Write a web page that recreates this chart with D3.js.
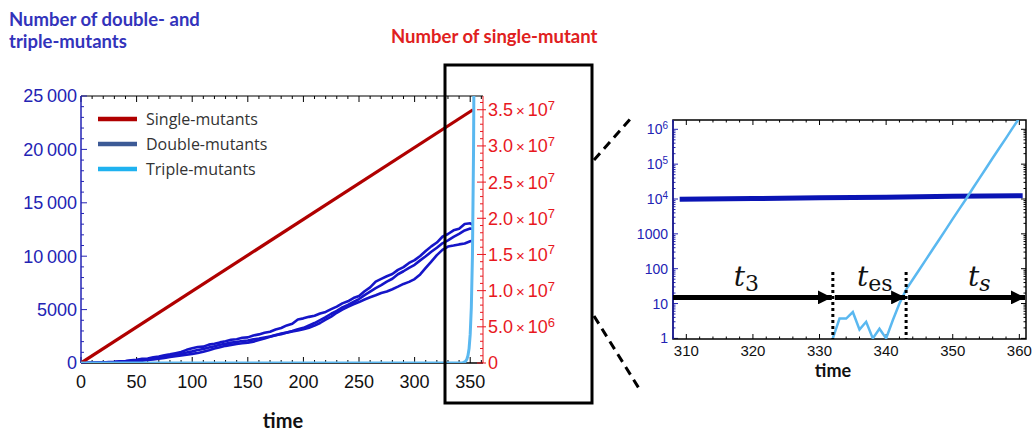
<!DOCTYPE html>
<html>
<head>
<meta charset="utf-8">
<script src="https://cdn.jsdelivr.net/npm/d3@7"></script>
<style>
body { margin: 0; background: #fff; }
svg { display: block; }
text { font-family: "Liberation Sans", Arial, sans-serif; }
</style>
</head>
<body>
<div id="chart"></div>
<script>
// ---- data ----
var timeGrid = [0,5,10,15,20,25,30,35,40,45,50,55,60,65,70,75,80,85,90,95,100,105,110,115,120,125,130,135,140,145,150,155,160,165,170,175,180,185,190,195,200,205,210,215,220,225,230,235,240,245,250,255,260,265,270,275,280,285,290,295,300,305,310,315,320,325,330,335,340,345,350,352];
var doubleA = [0,10,20,35,45,80,105,160,185,250,300,390,420,540,600,720,810,920,1030,1230,1380,1500,1530,1720,1800,1930,2030,2170,2230,2360,2400,2580,2680,2830,2930,3130,3280,3520,3680,4080,4180,4320,4430,4640,4780,5040,5280,5580,5780,6080,6280,6720,7080,7620,7880,8120,8330,8720,8980,9370,9630,10020,10480,10920,11280,11820,12080,12420,12580,13020,13080,12950];
var doubleB = [0,5,15,30,40,65,85,125,155,210,245,310,350,440,490,590,650,760,840,990,1090,1210,1310,1460,1570,1710,1790,1910,1970,2060,2110,2210,2290,2390,2490,2610,2690,2860,2990,3160,3290,3510,3740,4010,4290,4610,4890,5210,5440,5710,5990,6360,6690,7010,7290,7610,7890,8310,8590,8910,9190,9610,9990,10410,10790,11210,11490,11810,12090,12410,12590,12550];
var doubleC = [0,5,10,20,35,40,65,75,115,135,185,215,275,325,405,465,555,625,705,775,855,945,1055,1195,1355,1475,1605,1695,1785,1845,1905,1995,2155,2295,2455,2595,2755,2845,2955,3045,3155,3295,3505,3745,4055,4345,4705,4995,5255,5495,5705,5945,6155,6345,6555,6695,6905,7145,7405,7595,7855,8295,8905,9495,10105,10595,10905,10995,11105,11195,11405,11450];

var singleTime = [0, 352.5];
var singleVal = [0, 3.5e7];

var tripleTime = [0, 331, 332, 333, 334, 335, 336, 337, 338, 339, 340, 341, 342, 343, 344, 345, 346, 347, 348, 349, 350, 351, 352, 353, 354, 355, 356, 357, 358, 359, 360];
var tripleVal = [0, 0, 1, 3.7, 3.7, 5.7, 1.8, 3.0, 1, 1.9, 1, 3.3, 10, 25, 49, 95, 185, 360, 700, 1370, 2700, 5200, 10000, 20000, 39000, 76000, 150000, 290000, 560000, 1100000, 2100000];

var insetDoubleTime = [309, 320, 330, 340, 350, 360.5];
var insetDoubleVal = [9800, 10300, 10800, 11300, 11900, 12400];

var legendNames = ["Single-mutants", "Double-mutants", "Triple-mutants"];
var legendColors = ["#b00000", "#3c5a96", "#1fb2f0"];

var phaseBounds = [308, 332, 343, 361];
var phaseLabels = [["t", "3"], ["t", "es"], ["t", "s"]];
var phaseLabelTime = [319, 338.3, 354];
var phaseLevel = 15;

// ---- layout ----
var W = 1032, H = 434;
var blue = "#2323b4", red = "#e8181e";

var svg = d3.select("#chart").append("svg").attr("width", W).attr("height", H);

var x = d3.scaleLinear().domain([0, 361.5]).range([81, 483]),
    yL = d3.scaleLinear().domain([0, 25000]).range([363, 96]),
    yR = d3.scaleLinear().domain([0, 3.69e7]).range([363, 96]);

var defs = svg.append("defs");
defs.append("clipPath").attr("id", "clipMain").append("rect")
    .attr("x", 81).attr("y", 96).attr("width", 402).attr("height", 267);

// titles
var t1 = svg.append("text").attr("x", 9).attr("y", 26)
    .attr("fill", "#3333bb").style("font-family", "Lato, sans-serif")
    .style("font-weight", "bold").style("font-size", "18.5px");
t1.append("tspan").attr("x", 9).text("Number of double- and");
t1.append("tspan").attr("x", 9).attr("dy", 22).text("triple-mutants");

svg.append("text").attr("x", 391).attr("y", 43)
    .attr("fill", "#e02020").style("font-family", "Lato, sans-serif")
    .style("font-weight", "bold").style("font-size", "18.5px")
    .text("Number of single-mutant");

// ---- main chart ----
var main = svg.append("g");

// frame ticks
function hTicks(g, yPos, dir) {
  d3.range(0, 361, 10).forEach(function(v) {
    var len = v % 50 === 0 ? 6 : 3;
    g.append("line").attr("x1", x(v)).attr("x2", x(v))
      .attr("y1", yPos).attr("y2", yPos + dir * len)
      .attr("stroke", "#000").attr("stroke-width", 1);
  });
}
hTicks(main, 363, -1);
hTicks(main, 96, 1);

main.append("line").attr("x1", 81).attr("x2", 483).attr("y1", 96).attr("y2", 96)
    .attr("stroke", "#000").attr("stroke-width", 1.2);
main.append("line").attr("x1", 81).attr("x2", 483).attr("y1", 363).attr("y2", 363)
    .attr("stroke", "#000").attr("stroke-width", 1.5);

// left axis
d3.range(0, 25001, 1000).forEach(function(v) {
  var len = v % 5000 === 0 ? 6 : 3;
  main.append("line").attr("x1", 81).attr("x2", 81 + len).attr("y1", yL(v)).attr("y2", yL(v))
    .attr("stroke", blue).attr("stroke-width", 1);
});
main.append("line").attr("x1", 81).attr("x2", 81).attr("y1", 96).attr("y2", 363)
    .attr("stroke", blue).attr("stroke-width", 1.5);
d3.range(0, 25001, 5000).forEach(function(v) {
  var s = v >= 10000 ? Math.floor(v / 1000) + "\u2009" + "000" : String(v);
  main.append("text").attr("x", 77).attr("y", yL(v)).attr("dy", "0.36em")
    .attr("text-anchor", "end").attr("fill", blue).style("font-size", "18px").text(s);
});

// right axis
d3.range(0, 3.61e7, 1e6).forEach(function(v) {
  var len = Math.round(v / 1e6) % 5 === 0 ? 6 : 3;
  main.append("line").attr("x1", 483).attr("x2", 483 - len).attr("y1", yR(v)).attr("y2", yR(v))
    .attr("stroke", red).attr("stroke-width", 1);
  main.append("line").attr("x1", 483).attr("x2", 483 + (len > 3 ? 3 : 0)).attr("y1", yR(v)).attr("y2", yR(v))
    .attr("stroke", red).attr("stroke-width", 1);
});
main.append("line").attr("x1", 483).attr("x2", 483).attr("y1", 96).attr("y2", 363)
    .attr("stroke", red).attr("stroke-width", 1);
d3.range(0, 3.51e7, 5e6).forEach(function(v) {
  var t = main.append("text").attr("x", 488).attr("y", yR(v)).attr("dy", "0.36em")
    .attr("fill", red).style("font-size", "18px");
  if (v === 0) { t.text("0"); return; }
  var e = Math.floor(Math.log10(v)), m = v / Math.pow(10, e);
  t.append("tspan").text(m.toFixed(1));
  t.append("tspan").style("font-size", "15px").text("\u2009\u00d7\u2009");
  t.append("tspan").text("10");
  t.append("tspan").attr("dy", "-0.5em").style("font-size", "13px").text(e);
});

// bottom labels
d3.range(0, 351, 50).forEach(function(v) {
  main.append("text").attr("x", x(v)).attr("y", 382).attr("dy", "0.36em")
    .attr("text-anchor", "middle").attr("fill", "#111").style("font-size", "18px").text(v);
});
main.append("text").attr("x", 283).attr("y", 421).attr("dy", "0.36em")
  .attr("text-anchor", "middle").style("font-family", "Lato, sans-serif")
  .style("font-weight", "bold").style("font-size", "20px").attr("fill", "#111").text("time");

// series
var plot = main.append("g").attr("clip-path", "url(#clipMain)");
var lineL = d3.line().x(function(d) { return x(d[0]); }).y(function(d) { return yL(d[1]); });

[doubleA, doubleB, doubleC].forEach(function(ser) {
  plot.append("path").datum(d3.zip(timeGrid, ser)).attr("d", lineL)
    .attr("fill", "none").attr("stroke", "#1515c8").attr("stroke-width", 2.6)
    .attr("stroke-linejoin", "round");
});

plot.append("path").datum(d3.zip(singleTime, singleVal))
  .attr("d", d3.line().x(function(d) { return x(d[0]); }).y(function(d) { return yR(d[1]); }))
  .attr("fill", "none").attr("stroke", "#b00000").attr("stroke-width", 3.2);

plot.append("path").datum(d3.zip(tripleTime, tripleVal)).attr("d", lineL)
  .attr("fill", "none").attr("stroke", "#5ab8f0").attr("stroke-width", 3);

// legend
legendNames.forEach(function(n, i) {
  var yy = 119 + i * 25;
  main.append("line").attr("x1", 98).attr("x2", 137).attr("y1", yy).attr("y2", yy)
    .attr("stroke", legendColors[i]).attr("stroke-width", 4.5);
  main.append("text").attr("x", 146).attr("y", yy).attr("dy", "0.36em")
    .attr("fill", "#333").style("font-family", "'Open Sans', sans-serif")
    .style("font-size", "16px").text(n);
});

// highlight box and zoom lines
svg.append("rect").attr("x", 445).attr("y", 65).attr("width", 147).attr("height", 338)
  .attr("fill", "none").attr("stroke", "#000").attr("stroke-width", 3);
svg.append("line").attr("x1", 594).attr("y1", 160).attr("x2", 633).attr("y2", 116)
  .attr("stroke", "#000").attr("stroke-width", 3).attr("stroke-dasharray", "9,6");
svg.append("line").attr("x1", 594).attr("y1", 316).attr("x2", 640).attr("y2", 390)
  .attr("stroke", "#000").attr("stroke-width", 3).attr("stroke-dasharray", "9,6");

// ---- inset ----
var xi = d3.scaleLinear().domain([308, 361]).range([673, 1026]),
    yi = d3.scaleLog().domain([0.96, 1.85e6]).range([339, 120]);

defs.append("clipPath").attr("id", "clipInset").append("rect")
  .attr("x", 673).attr("y", 120).attr("width", 353).attr("height", 219);

var ins = svg.append("g");
d3.range(308, 361, 2).forEach(function(v) {
  var len = v % 10 === 0 ? 5 : 2.5;
  ins.append("line").attr("x1", xi(v)).attr("x2", xi(v)).attr("y1", 339).attr("y2", 339 - len)
    .attr("stroke", "#000");
  ins.append("line").attr("x1", xi(v)).attr("x2", xi(v)).attr("y1", 120).attr("y2", 120 + len)
    .attr("stroke", "#000");
});
var logTicks = [];
for (var e = 0; e <= 6; e++) for (var k = 1; k <= 9; k++) {
  var tv = k * Math.pow(10, e);
  if (tv <= 1.85e6) logTicks.push([tv, k === 1]);
}
logTicks.forEach(function(d) {
  var len = d[1] ? 5 : 2.5;
  ins.append("line").attr("x1", 673).attr("x2", 673 + len).attr("y1", yi(d[0])).attr("y2", yi(d[0]))
    .attr("stroke", blue);
  ins.append("line").attr("x1", 1026).attr("x2", 1026 - len).attr("y1", yi(d[0])).attr("y2", yi(d[0]))
    .attr("stroke", "#000");
});
ins.append("rect").attr("x", 673).attr("y", 120).attr("width", 353).attr("height", 219)
  .attr("fill", "none").attr("stroke", "#000").attr("stroke-width", 1.5);
ins.append("line").attr("x1", 673).attr("x2", 673).attr("y1", 120).attr("y2", 339)
  .attr("stroke", blue).attr("stroke-width", 1.5);

[1, 10, 100, 1000, 1e4, 1e5, 1e6].forEach(function(v) {
  var t = ins.append("text").attr("x", 668).attr("y", yi(v)).attr("dy", "0.36em")
    .attr("text-anchor", "end").attr("fill", blue).style("font-size", "14px");
  if (v < 1e4) { t.text(v); return; }
  t.append("tspan").text("10");
  t.append("tspan").attr("dy", "-0.5em").style("font-size", "10px").text(Math.round(Math.log10(v)));
});
d3.range(310, 361, 10).forEach(function(v) {
  ins.append("text").attr("x", xi(v)).attr("y", 351).attr("dy", "0.36em")
    .attr("text-anchor", "middle").attr("fill", "#111").style("font-size", "15px").text(v);
});
ins.append("text").attr("x", 833).attr("y", 371).attr("dy", "0.36em")
  .attr("text-anchor", "middle").style("font-family", "Lato, sans-serif")
  .style("font-weight", "bold").style("font-size", "18px").attr("fill", "#111").text("time");

var iplot = ins.append("g").attr("clip-path", "url(#clipInset)");
var lineI = d3.line().x(function(d) { return xi(d[0]); }).y(function(d) { return yi(d[1]); });
iplot.append("path").datum(d3.zip(insetDoubleTime, insetDoubleVal)).attr("d", lineI)
  .attr("fill", "none").attr("stroke", "#0a14b4").attr("stroke-width", 5);
iplot.append("path").datum(d3.zip(tripleTime, tripleVal).filter(function(d) { return d[0] >= 332; }))
  .attr("d", lineI).attr("fill", "none").attr("stroke", "#5ab8f0").attr("stroke-width", 2.5);

// phase arrows
defs.append("marker").attr("id", "arrow").attr("viewBox", "0 0 10 10")
  .attr("refX", 10).attr("refY", 5).attr("markerWidth", 2.8).attr("markerHeight", 2.8)
  .attr("markerUnits", "strokeWidth").attr("orient", "auto")
  .append("path").attr("d", "M0,0 L10,5 L0,10 z").attr("fill", "#000");

[332, 343].forEach(function(v) {
  ins.append("line").attr("x1", xi(v)).attr("x2", xi(v)).attr("y1", 272).attr("y2", 339)
    .attr("stroke", "#000").attr("stroke-width", 3).attr("stroke-dasharray", "3,3");
});
for (var i = 0; i < 3; i++) {
  var a = phaseBounds[i], b = phaseBounds[i + 1];
  ins.append("line").attr("x1", xi(a) + (i ? 2 : 0)).attr("x2", xi(b) - 1)
    .attr("y1", yi(phaseLevel)).attr("y2", yi(phaseLevel))
    .attr("stroke", "#000").attr("stroke-width", 5).attr("marker-end", "url(#arrow)");
  var lt = ins.append("text").attr("x", xi(phaseLabelTime[i])).attr("y", 286)
    .attr("text-anchor", "middle").style("font-family", "'DejaVu Serif', serif")
    .style("font-size", "28px").attr("fill", "#111");
  lt.append("tspan").style("font-style", "italic").text(phaseLabels[i][0]);
  lt.append("tspan").attr("dy", "0.22em").style("font-size", "22px")
    .style("font-style", i === 2 ? "italic" : "normal").text(phaseLabels[i][1]);
}
</script>
</body>
</html>
